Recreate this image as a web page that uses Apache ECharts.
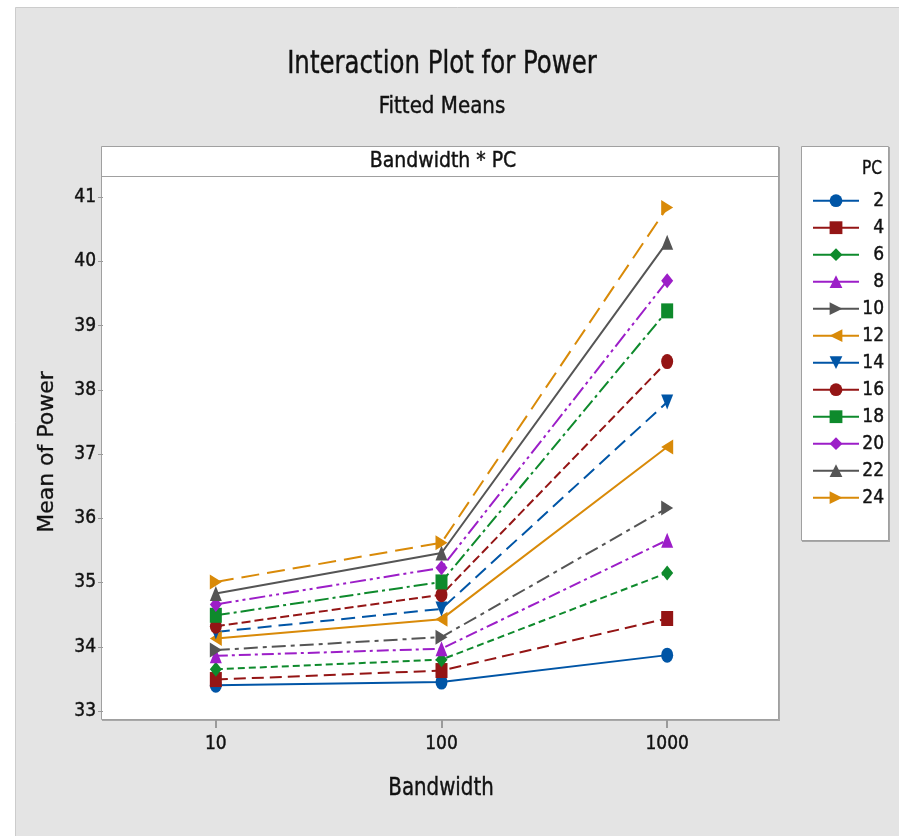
<!DOCTYPE html>
<html>
<head>
<meta charset="utf-8">
<script src="https://cdn.jsdelivr.net/npm/echarts@6/dist/echarts.min.js"></script>
<style>
  html, body { margin: 0; padding: 0; background: #ffffff; }
  #chart { width: 899px; height: 836px; }
</style>
</head>
<body>
<div id="chart"></div>
<script>
// Fitted means of Power for each Bandwidth level, one line per PC level
const bandwidthLevels = ['10', '100', '1000'];
const pcLevels = ['2', '4', '6', '8', '10', '12', '14', '16', '18', '20', '22', '24'];

const meansPC2  = [33.40, 33.45, 33.87];
const meansPC4  = [33.49, 33.63, 34.44];
const meansPC6  = [33.65, 33.80, 35.15];
const meansPC8  = [33.86, 33.97, 35.66];
const meansPC10 = [33.95, 34.15, 36.16];
const meansPC12 = [34.13, 34.43, 37.11];
const meansPC14 = [34.23, 34.59, 37.81];
const meansPC16 = [34.32, 34.81, 38.44];
const meansPC18 = [34.49, 35.01, 39.23];
const meansPC20 = [34.66, 35.23, 39.70];
const meansPC22 = [34.83, 35.46, 40.30];
const meansPC24 = [35.01, 35.62, 40.84];

const yTickValues = [33, 34, 35, 36, 37, 38, 39, 40, 41];

const allMeans = [meansPC2, meansPC4, meansPC6, meansPC8, meansPC10, meansPC12,
                  meansPC14, meansPC16, meansPC18, meansPC20, meansPC22, meansPC24];

const BLUE = '#0055a6', RED = '#941515', GREEN = '#0e8a2c',
      PURPLE = '#9c1ec8', GREY = '#555555', ORANGE = '#d98a08';

const RIGHT_TRI = 'path://M0,0 L10,5 L0,10 Z';
const LEFT_TRI  = 'path://M10,0 L0,5 L10,10 Z';
const DOWN_TRI  = 'path://M0,0 L10,0 L5,10 Z';

const looks = [
  { color: BLUE,   symbol: 'circle',   dash: 'solid' },
  { color: RED,    symbol: 'rect',     dash: [12, 6] },
  { color: GREEN,  symbol: 'diamond',  dash: [7, 4] },
  { color: PURPLE, symbol: 'triangle', dash: [12, 4, 3, 4] },
  { color: GREY,   symbol: RIGHT_TRI,  dash: [14, 5, 4, 5] },
  { color: ORANGE, symbol: LEFT_TRI,   dash: 'solid' },
  { color: BLUE,   symbol: DOWN_TRI,   dash: [14, 7] },
  { color: RED,    symbol: 'circle',   dash: [9, 4] },
  { color: GREEN,  symbol: 'rect',     dash: [14, 4, 3, 4] },
  { color: PURPLE, symbol: 'diamond',  dash: [16, 4, 3, 4, 3, 4] },
  { color: GREY,   symbol: 'triangle', dash: 'solid' },
  { color: ORANGE, symbol: RIGHT_TRI,  dash: [18, 8] }
];

const NARROW = '"Liberation Sans Narrow", "DejaVu Sans Condensed", "Liberation Sans", sans-serif';
const INK = '#111111';

const series = pcLevels.map((pc, i) => ({
  name: pc,
  type: 'line',
  data: allMeans[i],
  symbol: looks[i].symbol,
  symbolSize: [12, 15],
  showAllSymbol: true,
  color: looks[i].color,
  itemStyle: { color: looks[i].color },
  lineStyle: { color: looks[i].color, width: 2, type: looks[i].dash },
  emphasis: { disabled: true },
  animation: false,
  z: 3
}));

function label(text, x, y, size, sx, extra) {
  return Object.assign({
    type: 'text', x: x, y: y, z: 10, scaleX: sx,
    style: { text: text, font: size + 'px ' + NARROW, fill: INK,
             stroke: INK, lineWidth: 0.4,
             align: 'center', verticalAlign: 'middle' }
  }, extra || {});
}

const chart = echarts.init(document.getElementById('chart'), null, { renderer: 'canvas' });

chart.setOption({
  backgroundColor: '#ffffff',
  animation: false,
  graphic: [
    // outer grey frame
    { type: 'rect', z: -10, shape: { x: 15.5, y: 7.5, width: 900, height: 840 },
      style: { fill: '#e4e4e4', stroke: '#cccccc', lineWidth: 1 } },
    // panel shadow
    { type: 'rect', z: -9, shape: { x: 102, y: 147, width: 678, height: 574 },
      style: { fill: '#a8a8a8' } },
    // plot panel
    { type: 'rect', z: -8, shape: { x: 101.5, y: 146.5, width: 677, height: 573 },
      style: { fill: '#ffffff', stroke: '#a0a0a0', lineWidth: 1 } },
    // strip divider
    { type: 'line', z: -7, shape: { x1: 101.5, y1: 176.5, x2: 778.5, y2: 176.5 },
      style: { stroke: '#a0a0a0', lineWidth: 1 } },
    // legend box shadow + box
    { type: 'rect', z: -9, shape: { x: 802, y: 147, width: 88, height: 395 },
      style: { fill: '#a8a8a8' } },
    { type: 'rect', z: -8, shape: { x: 801.5, y: 146.5, width: 87, height: 394 },
      style: { fill: '#ffffff', stroke: '#a0a0a0', lineWidth: 1 } },
    // texts
    label('Interaction Plot for Power', 442, 65, 32, 0.85),
    label('Fitted Means', 442, 107, 23, 0.96),
    label('Bandwidth * PC', 443, 162, 21, 1.0),
    label('PC', 872, 169, 19, 0.9),
    label('Bandwidth', 441, 788, 25, 0.88),
    { type: 'text', x: 47, y: 452, rotation: Math.PI / 2, z: 10,
      style: { text: 'Mean of Power', font: '22px "DejaVu Sans", sans-serif',
               fill: INK, stroke: INK, lineWidth: 0.3,
               align: 'center', verticalAlign: 'middle' } }
  ],
  grid: { left: 103, right: 119, top: 176, bottom: 116, containLabel: false },
  xAxis: {
    type: 'category',
    data: bandwidthLevels,
    boundaryGap: true,
    axisLine: { show: false },
    axisTick: { show: true, alignWithLabel: true, length: 8, inside: false,
                lineStyle: { color: '#9a9a9a', width: 2 } },
    axisLabel: { color: INK, fontSize: 19, fontFamily: NARROW, margin: 15,
                 textBorderColor: INK, textBorderWidth: 0.4 },
    splitLine: { show: false }
  },
  yAxis: {
    type: 'value',
    min: 32.86,
    max: 41.33,
    axisLine: { show: false },
    axisTick: { show: true, length: 5, customValues: yTickValues,
                lineStyle: { color: '#9a9a9a', width: 1 } },
    axisLabel: { color: INK, fontSize: 19, fontFamily: NARROW, margin: 7,
                 textBorderColor: INK, textBorderWidth: 0.4,
                 customValues: yTickValues, formatter: v => String(Math.round(v)) },
    splitLine: { show: false }
  },
  legend: {
    orient: 'vertical',
    left: 807,
    top: 186,
    itemWidth: 46,
    itemHeight: 16,
    itemGap: 7.6,
    data: pcLevels,
    selectedMode: false,
    lineStyle: { type: 'solid', width: 2 },
    formatter: name => '{n|' + name + '}',
    textStyle: {
      color: INK, fontSize: 19, fontFamily: NARROW, lineHeight: 16,
      rich: { n: { width: 20, align: 'right', fontSize: 19, fontFamily: NARROW,
                   lineHeight: 16, color: INK, textBorderColor: INK, textBorderWidth: 0.4 } }
    }
  },
  series: series
});
</script>
</body>
</html>
